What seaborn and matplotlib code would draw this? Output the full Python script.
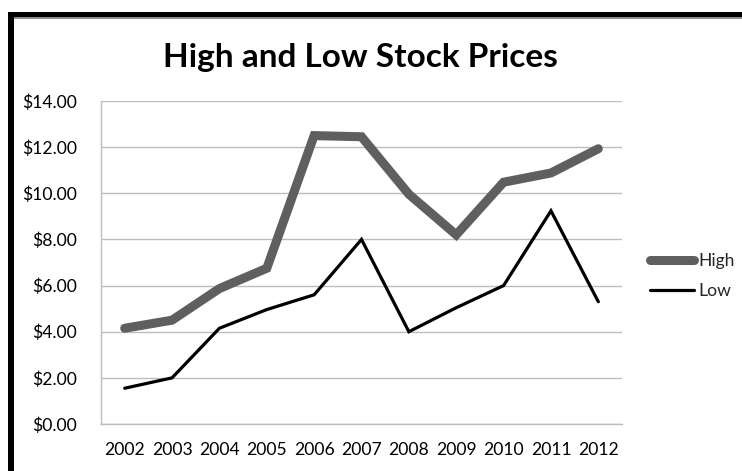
import matplotlib
matplotlib.use("Agg")
import matplotlib.pyplot as plt
from matplotlib.patches import Rectangle
from matplotlib.lines import Line2D
import seaborn as sns
import pandas as pd

years = [2002, 2003, 2004, 2005, 2006, 2007, 2008, 2009, 2010, 2011, 2012]
high = [4.15, 4.50, 5.87, 6.75, 12.50, 12.45, 9.96, 8.20, 10.48, 10.88, 11.93]
low = [1.55, 2.00, 4.15, 4.96, 5.60, 8.00, 4.00, 5.04, 6.00, 9.24, 5.30]
series_names = ["High", "Low"]
y_ticks = [0, 2, 4, 6, 8, 10, 12, 14]

df = pd.DataFrame({
    "Year": years * 2,
    "Price": high + low,
    "Series": [series_names[0]] * len(years) + [series_names[1]] * len(years),
})

sns.set_theme(style="white")
plt.rcParams["font.family"] = ["Lato", "DejaVu Sans"]

fig = plt.figure(figsize=(7.42, 4.71), dpi=100)
W, H = 742, 471
ax = fig.add_axes([101 / W, 1 - 424 / H, (622 - 101) / W, (424 - 101) / H])

colors = {"High": "#5f5f5f", "Low": "#000000"}
widths = {"High": 6.5, "Low": 2.3}
sns.lineplot(data=df, x="Year", y="Price", hue="Series", size="Series",
             palette=colors, sizes=widths, legend=False, ax=ax, zorder=3)
for ln in ax.lines:
    ln.set_solid_capstyle("round")
    ln.set_solid_joinstyle("miter")

ax.set_xlim(years[0] - 0.5, years[-1] + 0.5)
ax.set_ylim(0, 14)
ax.set_yticks(y_ticks)
ax.set_yticklabels([f"${v:.2f}" for v in y_ticks])
ax.set_xticks(years)
ax.set_xticklabels([str(y) for y in years])
ax.set_xlabel("")
ax.set_ylabel("")
ax.grid(axis="y", color="#bdbdbd", linewidth=1.0)
ax.grid(axis="x", visible=False)
ax.set_axisbelow(True)
for s in ["top", "right"]:
    ax.spines[s].set_visible(False)
for s in ["left", "bottom"]:
    ax.spines[s].set_color("#bdbdbd")
    ax.spines[s].set_linewidth(1.0)
ax.tick_params(axis="both", length=0, labelsize=12.6, colors="#000000")
ax.tick_params(axis="y", pad=17)
ax.tick_params(axis="x", pad=13)

handles = [Line2D([0], [0], color=colors[n], lw=widths[n], solid_capstyle="round") for n in series_names]
leg = ax.legend(handles, series_names, loc="center left",
                bbox_to_anchor=(650 / W, 1 - 276 / H), bbox_transform=fig.transFigure,
                frameon=False, fontsize=12.6, handlelength=2.5, handletextpad=0.25,
                labelspacing=0.8, borderpad=0, borderaxespad=0)

fig.text(360 / W, 1 - 58 / H, "High and Low Stock Prices", ha="center", va="center",
         fontsize=24, fontweight="bold", color="#000000")

# chart frame borders
fig.add_artist(Rectangle((8 / W, 0), 6 / W, 1 - 12 / H, transform=fig.transFigure,
                         color="black", lw=0))
fig.add_artist(Rectangle((8 / W, 1 - 17 / H), 1 - 8 / W, 5 / H, transform=fig.transFigure,
                         color="black", lw=0))
fig.add_artist(Rectangle((14 / W, 1 - 19 / H), 1 - 14 / W, 2 / H, transform=fig.transFigure,
                         color="#8c8c8c", lw=0))

fig.savefig("out.png", dpi=100)
